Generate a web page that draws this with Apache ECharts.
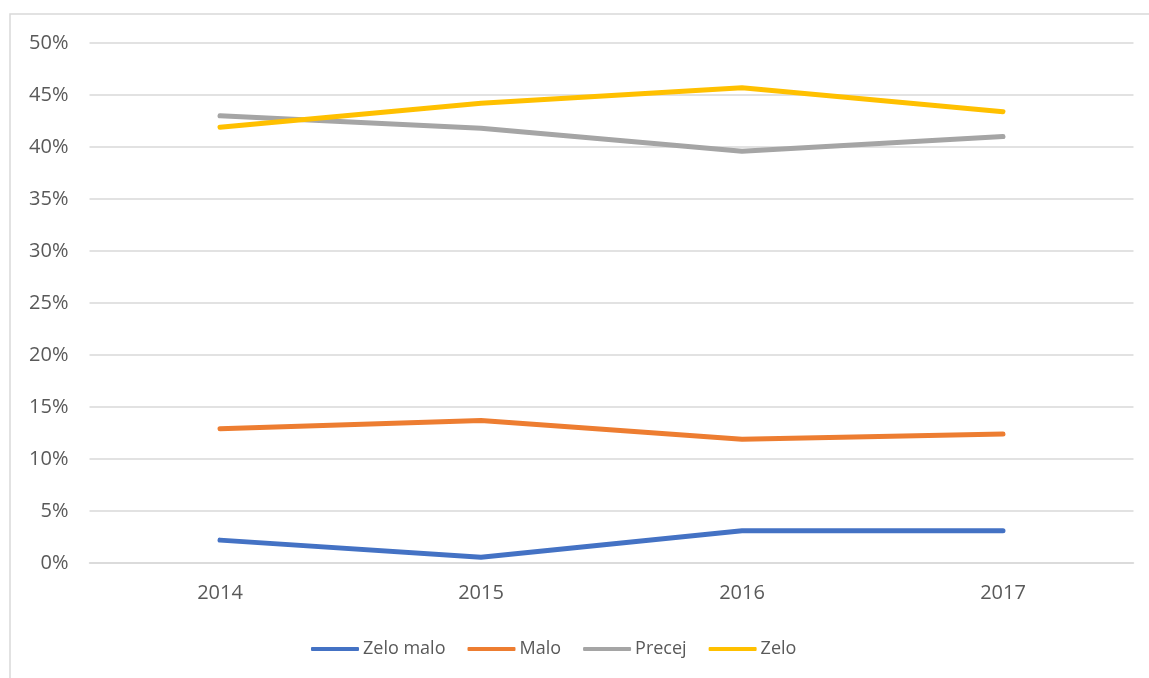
<!DOCTYPE html>
<html>
<head>
<meta charset="utf-8">
<script src="https://cdn.jsdelivr.net/npm/echarts@6/dist/echarts.min.js"></script>
<style>
  html, body { margin: 0; padding: 0; background: #fff; }
  #chart { width: 1149px; height: 678px; }
</style>
</head>
<body>
<div id="chart"></div>
<script>
// Survey answer shares by year (percent)
const years = ['2014', '2015', '2016', '2017'];
const zeloMalo = [2.2, 0.55, 3.1, 3.1];
const malo = [12.9, 13.7, 11.9, 12.4];
const precej = [43.0, 41.8, 39.6, 41.0];
const zelo = [41.9, 44.2, 45.7, 43.4];
const yTicks = [0, 5, 10, 15, 20, 25, 30, 35, 40, 45, 50];

const seriesDefs = [
  { name: 'Zelo malo', data: zeloMalo, color: '#4472C4' },
  { name: 'Malo', data: malo, color: '#ED7D31' },
  { name: 'Precej', data: precej, color: '#A5A5A5' },
  { name: 'Zelo', data: zelo, color: '#FFC000' }
];

const font = '"Open Sans", "Noto Sans", sans-serif';
const chart = echarts.init(document.getElementById('chart'));

chart.setOption({
  animation: false,
  backgroundColor: '#ffffff',
  graphic: [{
    type: 'rect',
    shape: { x: 10, y: 14, width: 1200, height: 700 },
    style: { fill: 'none', stroke: '#d9d9d9', lineWidth: 1.5 },
    silent: true
  }],
  grid: { left: 89.5, right: 15.5, top: 43, bottom: 115, containLabel: false },
  legend: {
    bottom: 15,
    left: 306,
    itemWidth: 48,
    itemHeight: 4,
    itemGap: 22,
    icon: 'roundRect',
    textStyle: { color: '#595959', fontSize: 18, fontFamily: font, padding: [0, 0, 0, -1] },
    data: seriesDefs.map(s => s.name)
  },
  xAxis: {
    type: 'category',
    data: years,
    boundaryGap: true,
    axisLine: { show: true, lineStyle: { color: '#d9d9d9', width: 1.5 } },
    axisTick: { show: false },
    axisLabel: { color: '#595959', fontSize: 20, fontFamily: font, margin: 20 }
  },
  yAxis: {
    type: 'value',
    min: yTicks[0],
    max: yTicks[yTicks.length - 1],
    interval: 5,
    axisLine: { show: false },
    axisTick: { show: false },
    splitLine: { lineStyle: { color: '#d9d9d9', width: 1.5 } },
    axisLabel: { color: '#595959', fontSize: 20, fontFamily: font, margin: 21, formatter: v => v + '%' }
  },
  series: seriesDefs.map(s => ({
    name: s.name,
    type: 'line',
    data: s.data,
    symbol: 'none',
    color: s.color,
    lineStyle: { width: 5, color: s.color, cap: 'round', join: 'round' }
  }))
});
</script>
</body>
</html>
